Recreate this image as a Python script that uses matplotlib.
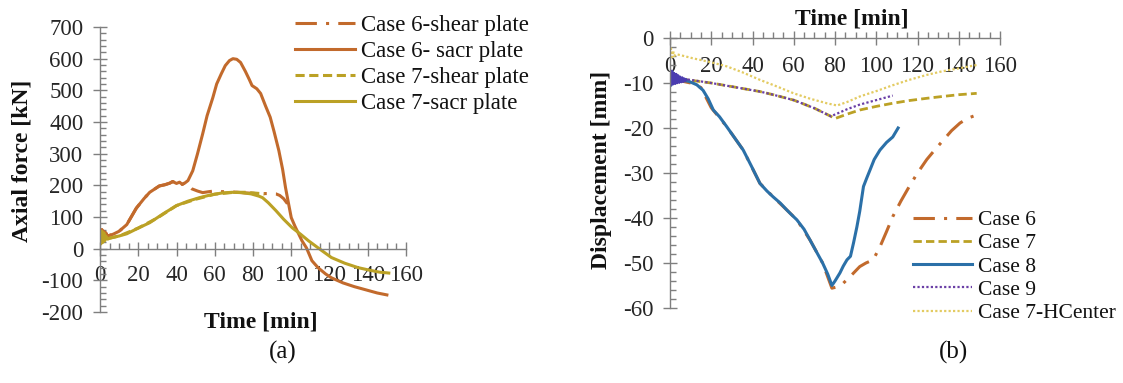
import matplotlib
matplotlib.use("Agg")
import matplotlib.pyplot as plt
from matplotlib.ticker import MultipleLocator

plt.rcParams['font.family'] = ['Liberation Serif', 'DejaVu Serif']
plt.rcParams['axes.unicode_minus'] = False

W, H = 1123, 383

# ---------------- (a) axial force ----------------
t6_sacr = [0, 0.5, 1, 1.5, 2, 2.5, 3, 4, 5, 7, 10, 14, 19, 23, 26, 29, 31, 34, 36.5, 38,
           40, 41.6, 43, 44.5, 46, 48.5, 51, 53.7, 56, 59, 61, 63.4, 65.5, 67.7, 69.5, 71.5,
           73.5, 76, 78, 79.5, 82, 84, 86.6, 89, 91, 93.5, 95.5, 97, 98.5, 100, 102, 105.6,
           108, 110.8, 114, 118, 121, 127, 133, 139, 145, 150]
f6_sacr = [45, 20, 60, 25, 55, 30, 50, 38, 42, 46, 55, 76, 128, 158, 178, 190, 198, 202, 207, 212,
           206, 210, 203, 208, 215, 246, 300, 363, 420, 477, 520, 552, 578, 594, 600, 598,
           588, 560, 535, 515, 505, 490, 450, 415, 370, 310, 250, 193, 145, 98, 70, 25,
           2, -38, -60, -80, -92, -108, -120, -130, -140, -146]

t6_shear = [0, 0.5, 1, 1.5, 2, 2.5, 3, 4, 5, 7, 10, 14, 19, 23, 26, 29, 31, 34, 36.5, 38,
            40, 41.6, 43, 44.5, 46, 48, 51, 53.7, 57, 60.8, 64, 67.7, 72, 76, 80, 84, 88, 92,
            94, 96, 98]
f6_shear = [45, 20, 60, 25, 55, 30, 50, 38, 42, 46, 55, 76, 128, 158, 178, 190, 198, 202, 207, 212,
            206, 210, 203, 208, 200, 189, 182, 177, 180, 183, 180, 180, 178, 176, 175, 174, 174, 173,
            168, 158, 142]

t7_sacr = [0, 0.5, 1, 1.5, 2, 2.5, 3, 4, 5, 7, 10, 14, 20, 26, 33, 40, 46, 52, 58, 64, 69, 74,
           79, 83, 85, 88, 92, 96, 100.5, 105, 109, 114.6, 121, 128, 135, 141, 146, 151]
f7_sacr = [50, 15, 55, 20, 45, 25, 40, 30, 33, 36, 40, 47, 65, 82, 110, 136, 150, 161, 170, 176,
           178, 177, 173, 166, 161, 145, 120, 93, 66, 45, 25, 0, -28, -46, -60, -68, -74, -77]

t7_shear = [0, 1, 2, 3, 5, 10, 20, 30, 40, 50, 60, 70, 76, 80, 84, 86]
f7_shear = [45, 20, 50, 30, 33, 40, 65, 97, 136, 156, 172, 178, 178, 176, 174, 172]

force_labels = ['Case 6-shear plate', 'Case 6- sacr plate', 'Case 7-shear plate', 'Case 7-sacr plate']

# ---------------- (b) displacement ----------------
t_c6 = [0, 5, 10, 15, 20, 27.5, 35.5, 43.6, 50, 56.6, 61.5, 67.9, 74, 78.5, 81, 84, 88, 92, 95,
        98.5, 101.8, 105, 108, 112, 116, 120, 124.5, 128.5, 132.5, 136.5, 140.6, 144.5, 148.7]
d_c6 = [-9, -9.5, -10, -11, -15.5, -19.7, -24.9, -32.3, -35.3, -38.2, -40.4, -44.9, -50, -55.6,
        -55.3, -54.5, -52.7, -50.8, -50, -49.3, -46.4, -43, -39.7, -36.2, -33, -30, -27, -24.8,
        -22.7, -20.6, -18.9, -17.8, -17.1]

t_c7 = [0, 0.5, 1, 1.5, 2, 3, 5, 10, 15, 20, 30, 43.6, 50, 60, 70, 74, 78, 80, 82.4, 86, 92,
        100, 108, 116, 124.5, 132, 140, 148.7]
d_c7 = [-8.5, -10, -8.8, -9.6, -9, -9.3, -9.1, -9.4, -9.7, -10, -10.8, -11.9, -12.6, -13.8,
        -15.6, -16.5, -17.4, -17.9, -17.5, -16.9, -16, -15.2, -14.5, -13.9, -13.4, -13, -12.6, -12.3]

t_c8 = [0, 0.5, 1, 1.5, 2, 3, 4, 5, 7, 9, 11, 13, 16, 18.5, 21, 24, 27.5, 31.5, 35.5, 39.5, 43.6,
        47, 50, 53.5, 56.6, 59, 61.5, 65, 67.9, 71, 74, 76.5, 78.5, 80, 82.4, 84, 85.8, 87.5, 89,
        90.6, 92, 93.8, 95.5, 97, 99, 101.8, 105, 108, 110.6]
d_c8 = [-8, -10.5, -7.5, -10, -8.5, -9.8, -9.2, -9.5, -9.5, -9.6, -10, -10.4, -11.6, -13.5, -16,
        -17.5, -19.7, -22.3, -24.9, -28.5, -32.3, -34, -35.3, -36.7, -38.2, -39.3, -40.4, -42.5,
        -44.9, -47.5, -50, -52.5, -55, -54, -52.2, -50.7, -49.3, -48.5, -45.5, -42, -38.5, -33,
        -31, -29.3, -27, -24.9, -23.2, -22, -20]

t_c9 = [0, 0.5, 1, 1.5, 2, 2.5, 3, 3.5, 4, 4.5, 5, 5.5, 6, 6.5, 7, 7.5, 8, 10, 20, 30, 43.6, 50,
        60, 70, 78, 82, 86, 92, 100, 108]
d_c9 = [-7, -10.5, -7.3, -10.3, -7.8, -10.2, -8, -10, -8.3, -9.9, -8.6, -9.8, -8.8, -9.7, -9,
        -9.5, -9.2, -9.3, -10, -10.8, -11.9, -12.6, -13.8, -15.6, -17.4, -16.6, -15.8, -14.8,
        -13.8, -12.8]

t_hc = [0, 0.5, 1, 1.5, 2, 3, 5, 11, 20, 27.5, 35, 43.6, 52, 60, 68, 76, 81, 86, 92, 100, 108,
        116, 124.5, 132, 140.6, 148.7]
d_hc = [-3.5, -2.3, -4.3, -2.8, -4, -3.6, -3.8, -4.5, -5.4, -6.3, -7.6, -9.3, -10.8, -12.3,
        -13.5, -14.5, -15, -14.2, -13, -11.8, -10.5, -9.3, -8.2, -7.4, -6.7, -6]

disp_labels = ['Case 6', 'Case 7', 'Case 8', 'Case 9', 'Case 7-HCenter']

BROWN = '#C26A2C'
OLIVE = '#BBA125'
BLUE = '#2B70A8'
PURPLE = '#6A3FA6'
LIGHTY = '#E3CB62'
SPINE = '#7F7F7F'
TXT = '#262626'

TICK_FS = 16.5
LAB_FS = 17

fig = plt.figure(figsize=(W / 100, H / 100), dpi=100)


def px(x, y):
    return x / W, 1 - y / H


def style_axes(ax):
    for s in ('top', 'right'):
        ax.spines[s].set_visible(False)
    ax.spines['bottom'].set_position(('data', 0))
    for s in ('left', 'bottom'):
        ax.spines[s].set_color(SPINE)
        ax.spines[s].set_linewidth(1.0)
    ax.tick_params(which='major', direction='inout', length=10, width=1.0, color=SPINE,
                   labelsize=TICK_FS, labelcolor=TXT)
    ax.tick_params(which='minor', direction='in', length=4, width=1.0, color=SPINE)
    ax.tick_params(axis='y', which='major', pad=7)
    ax.tick_params(axis='x', which='major', pad=7)
    ax.set_facecolor('none')


# (a)
axa = fig.add_axes([100 / W, (H - 312) / H, 306 / W, 285 / H])
axa.plot(t6_shear, f6_shear, color=BROWN, lw=2.2, ls=(0, (7, 3, 1, 3)), label=force_labels[0])
axa.plot(t6_sacr, f6_sacr, color=BROWN, lw=2.2, label=force_labels[1])
axa.plot(t7_shear, f7_shear, color=OLIVE, lw=2.2, ls=(0, (3, 1.5)), label=force_labels[2])
axa.plot(t7_sacr, f7_sacr, color=OLIVE, lw=2.2, label=force_labels[3])
axa.set_xlim(0, 160)
axa.set_ylim(-200, 700)
axa.xaxis.set_major_locator(MultipleLocator(20))
axa.xaxis.set_minor_locator(MultipleLocator(5))
axa.yaxis.set_major_locator(MultipleLocator(100))
axa.yaxis.set_minor_locator(MultipleLocator(20))
style_axes(axa)
handles_a, labels_a = axa.get_legend_handles_labels()
fig.legend(handles_a, labels_a, loc='upper left', bbox_to_anchor=px(295, 15), frameon=False,
           borderpad=0, borderaxespad=0, handlelength=2.6, handletextpad=0.3,
           labelspacing=0.22, fontsize=16.5, labelcolor='#111111')
fig.text(*px(22, 161), 'Axial force [kN]', rotation=90, ha='center', va='center',
         fontsize=LAB_FS, fontweight='bold', color='#111111')
fig.text(*px(261, 322), 'Time [min]', ha='center', va='center', fontsize=LAB_FS,
         fontweight='bold', color='#111111')
fig.text(*px(283, 352), '(a)', ha='center', va='center', fontsize=18, color='#111111')

# (b)
axb = fig.add_axes([670 / W, (H - 308) / H, 330 / W, 270 / H])
axb.plot(t_c6, d_c6, color=BROWN, lw=2.2, ls=(0, (7, 3, 1, 3)), label=disp_labels[0])
axb.plot(t_c7, d_c7, color=OLIVE, lw=2.0, ls=(0, (3, 1.5)), label=disp_labels[1])
axb.plot(t_c8, d_c8, color=BLUE, lw=2.2, label=disp_labels[2])
axb.plot(t_c9, d_c9, color=PURPLE, lw=1.6, ls=(0, (1, 1)), label=disp_labels[3])
axb.plot(t_c9[:17], d_c9[:17], color='#4B3DB0', lw=1.6)
axb.plot(t_hc, d_hc, color=LIGHTY, lw=1.6, ls=(0, (1, 1)), label=disp_labels[4])
axb.set_xlim(0, 160)
axb.set_ylim(-60, 0)
axb.xaxis.set_major_locator(MultipleLocator(20))
axb.xaxis.set_minor_locator(MultipleLocator(5))
axb.yaxis.set_major_locator(MultipleLocator(10))
axb.yaxis.set_minor_locator(MultipleLocator(2))
style_axes(axb)
axb.tick_params(axis='x', which='major', pad=8)
handles_b, labels_b = axb.get_legend_handles_labels()
fig.legend(handles_b, labels_b, loc='upper left', bbox_to_anchor=px(913, 210), frameon=False,
           borderpad=0, borderaxespad=0, handlelength=2.75, handletextpad=0.25,
           labelspacing=0.15, fontsize=15.5, labelcolor='#111111')
fig.text(*px(602, 170), 'Displacement [mm]', rotation=90, ha='center', va='center',
         fontsize=LAB_FS, fontweight='bold', color='#111111')
fig.text(*px(852, 19), 'Time [min]', ha='center', va='center', fontsize=LAB_FS,
         fontweight='bold', color='#111111')
fig.text(*px(953, 352), '(b)', ha='center', va='center', fontsize=18, color='#111111')

fig.savefig('out.png', dpi=100)
